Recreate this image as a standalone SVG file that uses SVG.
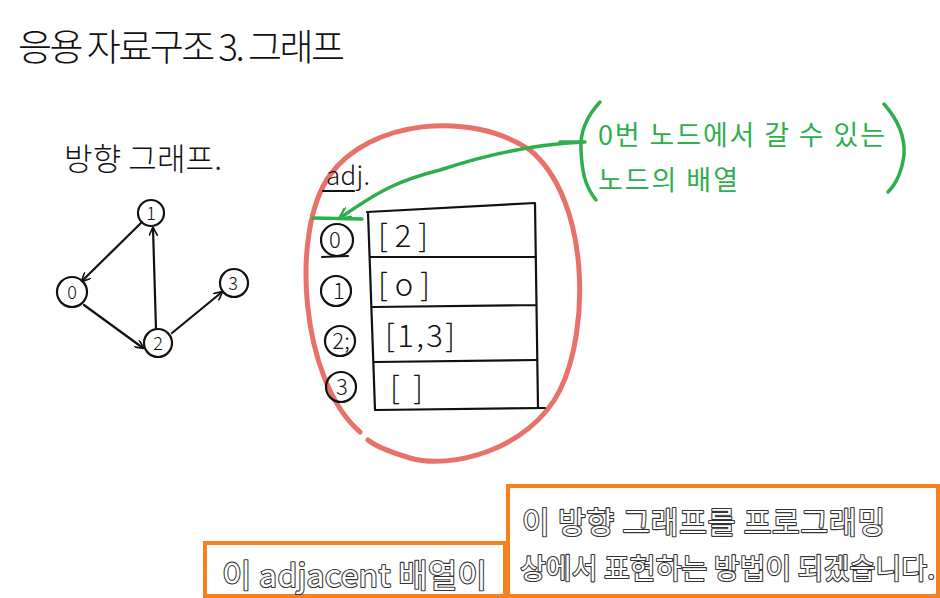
<svg xmlns="http://www.w3.org/2000/svg" width="940" height="598" viewBox="0 0 940 598">
<style>
.hw{font-family:"Noto Sans CJK KR","Noto Sans",sans-serif;font-weight:300;fill:#111}
.ink{fill:none;stroke:#111;stroke-width:2.2;stroke-linecap:round;stroke-linejoin:round}
.grn{font-family:"Noto Sans CJK KR","Noto Sans",sans-serif;fill:#2fae4e;font-size:27px}
.gline{fill:none;stroke:#2fae4e;stroke-width:3.5;stroke-linecap:round;stroke-linejoin:round}
.sub{font-family:"Noto Sans CJK KR","Noto Sans",sans-serif;fill:#fff;stroke:#333;stroke-width:2.2;paint-order:stroke;stroke-linejoin:round}
.box{fill:#fff;stroke:#f5821f;stroke-width:4}
</style>
<defs>
<marker id="ah" viewBox="0 0 10 10" refX="9" refY="5" markerWidth="9" markerHeight="9" orient="auto" markerUnits="userSpaceOnUse">
<path d="M0,0 L10,5 L0,10" fill="none" stroke="#111" stroke-width="1.8"/>
</marker>
<marker id="gah" viewBox="0 0 10 10" refX="9" refY="5" markerWidth="12" markerHeight="12" orient="auto" markerUnits="userSpaceOnUse">
<path d="M0,0 L10,5 L0,10" fill="none" stroke="#2fae4e" stroke-width="2"/>
</marker>
</defs>
<rect width="940" height="598" fill="#fff"/>
<text class="hw" x="18" y="61" font-size="37" textLength="327" lengthAdjust="spacing">응용 자료구조 3. 그래프</text>
<text class="hw" x="64" y="170" font-size="31" textLength="158" lengthAdjust="spacing">방향 그래프.</text>

<g id="connectors">
<line class="ink" x1="142" y1="222" x2="82" y2="281" marker-end="url(#ah)"/>
<line class="ink" x1="156" y1="329" x2="153" y2="228" marker-end="url(#ah)"/>
<line class="ink" x1="84" y1="305" x2="143" y2="348" marker-end="url(#ah)"/>
<line class="ink" x1="172" y1="333" x2="222" y2="292" marker-end="url(#ah)"/>
</g>
<g id="node-1"><circle class="ink" cx="151" cy="213" r="13"/><text class="hw" x="151" y="220" font-size="18" text-anchor="middle" font-weight="700">1</text></g>
<g id="node-0"><circle class="ink" cx="72" cy="292" r="15" stroke-width="2.8"/><text class="hw" x="72" y="299" font-size="18" text-anchor="middle" font-weight="700">0</text></g>
<g id="node-2"><circle class="ink" cx="158" cy="343" r="14"/><text class="hw" x="158" y="350" font-size="18" text-anchor="middle">2</text></g>
<g id="node-3"><circle class="ink" cx="234" cy="283" r="14"/><text class="hw" x="233" y="290" font-size="18" text-anchor="middle">3</text></g>

<g id="red-circle">
<path d="M360,432 C300,380 290,230 330,175 C370,120 470,110 530,150 C590,200 590,330 560,390 C530,450 450,470 410,458 C390,452 375,446 368,440" fill="none" stroke="#e8716a" stroke-width="5" stroke-linecap="round"/>
</g>

<g id="adj">
<text class="hw" x="326" y="185" font-size="26" textLength="44" lengthAdjust="spacing">adj.</text>
<line class="ink" x1="323" y1="191" x2="354" y2="191"/>
</g>
<g id="table">
<path class="ink" d="M367,212 L535,203 M368,212 L375,410 M535,203 L538,408 M370,257 L536,257 M373,307 L536,305 M375,362 L536,360 M376,410 L545,408"/>
<text class="hw" x="378" y="247" font-size="31" font-weight="500" textLength="50" lengthAdjust="spacing">[2]</text>
<text class="hw" x="378" y="296" font-size="31" textLength="52" lengthAdjust="spacing">[o]</text>
<text class="hw" x="385" y="347" font-size="31" textLength="70" lengthAdjust="spacing">[1,3]</text>
<text class="hw" x="390" y="399" font-size="31" textLength="33" lengthAdjust="spacing">[]</text>
</g>
<g id="idx-0"><circle class="ink" cx="337" cy="240" r="16"/><text class="hw" x="335" y="248" font-size="22" text-anchor="middle">0</text><line class="ink" x1="322" y1="257" x2="348" y2="256" stroke-width="3"/></g>
<g id="idx-1"><circle class="ink" cx="336" cy="291" r="15"/><text class="hw" x="339" y="299" font-size="22" text-anchor="middle">1</text></g>
<g id="idx-2"><circle class="ink" cx="340" cy="341" r="15"/><text class="hw" x="341" y="349" font-size="22" text-anchor="middle">2;</text></g>
<g id="idx-3"><circle class="ink" cx="341" cy="387" r="15"/><text class="hw" x="342" y="395" font-size="22" text-anchor="middle">3</text></g>

<g id="note">
<path class="gline" d="M583,142 C520,145 470,160 440,170 C400,180 380,190 340,218" marker-end="url(#gah)"/>
<line class="gline" x1="313" y1="218" x2="362" y2="219"/>
<line class="gline" x1="560" y1="142" x2="585" y2="142"/>
<path class="gline" d="M600,102 C585,118 580,135 581,150 C582,170 584,185 596,200"/>
<path class="gline" d="M884,104 C900,122 905,140 904,155 C902,170 897,183 888,192"/>
<text class="grn" x="598" y="145" textLength="287" lengthAdjust="spacing">0번 노드에서 갈 수 있는</text>
<text class="grn" x="598" y="190" textLength="140" lengthAdjust="spacing">노드의 배열</text>
</g>

<g id="caption-1">
<rect class="box" x="205" y="543" width="300" height="53"/>
<text class="sub" x="222" y="587" font-size="32" textLength="265" lengthAdjust="spacing">이 adjacent 배열이</text>
</g>
<g id="caption-2">
<rect class="box" x="508" y="486" width="430" height="110"/>
<text class="sub" x="522" y="533" font-size="30" textLength="363" lengthAdjust="spacing">이 방향 그래프를 프로그래밍</text>
<text class="sub" x="520" y="579" font-size="28" textLength="415" lengthAdjust="spacing">상에서 표현하는 방법이 되겠습니다.</text>
</g>
</svg>
